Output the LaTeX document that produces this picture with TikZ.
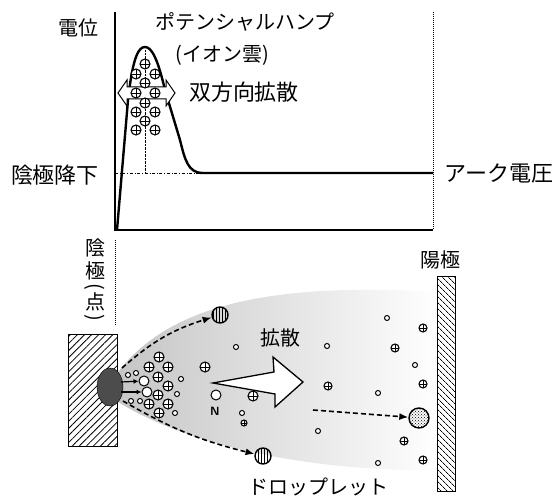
\documentclass[tikz,border=0pt]{standalone}
\usepackage{fontspec}
\newfontfamily\jp{Noto Sans CJK JP}
\usetikzlibrary{arrows.meta,patterns,patterns.meta}

\tikzset{
  lbl/.style={font=\jp\fontsize{20}{22}\selectfont,inner sep=0pt},
  ion/.style={circle,draw,fill=white,inner sep=0pt,minimum size=#1,line width=1.1pt,
    path picture={\draw[line width=0.9pt] (path picture bounding box.north)--(path picture bounding box.south)
      (path picture bounding box.west)--(path picture bounding box.east);}},
  ion/.default=10pt,
  atom/.style={circle,draw,fill=white,inner sep=0pt,minimum size=#1,line width=1pt},
  atom/.default=5pt,
  drop/.style={circle,draw,line width=1.4pt,inner sep=0pt,minimum size=16pt},
  flow/.style={dash pattern=on 5pt off 3pt,line width=1.6pt,-{Latex[length=9pt,width=7pt]}},
  jet/.style={line width=1.2pt,-{Latex[length=5pt,width=5pt]}}
}

\begin{document}
\begin{tikzpicture}[x=1pt,y=-1pt]
\useasboundingbox (0,0) rectangle (558,497);

% potential graph
\draw[line width=1.1pt] (115,12) -- (115,230) -- (433,230);
\draw[densely dotted,line width=1pt] (433,12) -- (433,230);
\draw[dash dot,line width=0.8pt] (115,173) -- (200,173);
\draw[densely dotted,thin] (145,50) -- (145,173);
\draw[line width=2.4pt,line join=round] (117,230) -- (128,100)
  .. controls (133,55) and (139,47) .. (145,47)
  .. controls (152,47) and (158,60) .. (165,90) -- (180,140)
  .. controls (185,160) and (188,173) .. (203,173) -- (433,173);
\draw[line width=1pt,fill=white] (118,93) -- (127,80) -- (127,87) -- (166,87) -- (166,80)
  -- (175,93) -- (166,106) -- (166,99) -- (127,99) -- (127,106) -- cycle;
\foreach \p [count=\i] in {(145,64),(136,74),(155,74),(145,83),(136,93),(155,93),
    (145,103),(136,112),(155,112),(145,121),(136,130),(155,130)}
  \node[ion] (hump\i) at \p {};

\node[lbl] (pot) at (78,28) {電位};
\node[lbl] (hump) at (245,22) {ポテンシャルハンプ};
\node[lbl] (cloud) at (222,55) {(イオン雲)};
\node[lbl,font=\jp\fontsize{22}{24}\selectfont] (bidir) at (244,92) {双方向拡散};
\node[lbl,font=\jp\fontsize{22}{24}\selectfont] (fall) at (55,175) {陰極降下};
\node[lbl,font=\jp\fontsize{22}{24}\selectfont] (arcv) at (499,173) {アーク電圧};

% cathode spot and plasma
\draw[densely dotted,line width=1pt] (115,240) -- (115,325);
\node[lbl] (cath1) at (95,248) {陰};
\node[lbl] (cath2) at (95,271) {極};
\node[lbl,rotate=-90] (cath3) at (95,287) {(};
\node[lbl] (cath4) at (95,302) {点};
\node[lbl,rotate=-90] (cath5) at (95,318) {)};

\shade[left color=gray!45,middle color=gray!30,right color=white]
  (118,372) .. controls (170,305) and (270,282) .. (440,292) -- (440,470)
  .. controls (330,472) and (200,452) .. (118,402) -- cycle;

\draw[line width=1pt,pattern={Lines[angle=45,distance=5pt,line width=0.8pt]}]
  (68,335) rectangle (117,447);
\draw[line width=1pt,pattern={Lines[angle=-45,distance=4pt,line width=0.8pt]}]
  (437,277) rectangle (455,492);
\draw[fill=gray!60!black] (110,387) ellipse [x radius=13,y radius=19];
\node[lbl] (anode) at (440,260) {陽極};

% particles
\foreach \p [count=\i] in {(159,357),(149,367),(168,367),(158,377),(168,386),(158,395),
    (149,404),(168,404),(159,413),(205,367),(253,396)}
  \node[ion] (ion\i) at \p {};
\foreach \p [count=\i] in {(423,328),(395,348),(423,384),(328,386),(404,441),(423,460)}
  \node[ion=8pt] (far\i) at \p {};
\foreach \p [count=\i] in {(144,381),(147,392)}
  \node[atom=10pt] (big\i) at \p {};
\node[atom=10pt] (nitro) at (216,395) {};
\node[font=\sffamily\bfseries\fontsize{12}{12}\selectfont,inner sep=0pt] (nlbl) at (215,411) {N};
\foreach \p [count=\i] in {(128,375),(136,373),(131,401),(140,401),(181,379),(177,394),
    (175,413),(236,347),(242,413),(387,318),(327,346),(415,365),(378,393),(318,431),(378,463)}
  \node[atom] (atom\i) at \p {};
\node[ion=6pt] (small) at (244,423) {};

% droplets
\node[drop,pattern=vertical lines] (dropA) at (220,315) {};
\node[drop,pattern=vertical lines] (dropB) at (263,456) {};
\node[drop,minimum size=20pt,pattern=crosshatch dots] (dropC) at (419,418) {};
\coordinate (srcA) at (122,368);
\coordinate (srcB) at (123,401);
\coordinate (srcC) at (313,410);
\draw[flow] (srcA) to[bend left=12] (dropA);
\draw[flow] (srcB) to[bend right=8] (dropB);
\draw[flow] (srcC) -- (dropC);
\coordinate (jet1) at (121,382);
\coordinate (jet2) at (121,392);
\draw[jet] (jet1) -- (big1);
\draw[jet] (jet2) -- (big2);

% diffusion arrow
\draw[line width=1.3pt,fill=white,line join=miter] (213,383) -- (274,372) -- (273,357) -- (303,382)
  -- (275,407) -- (275,394) -- cycle;
\node[lbl] (diff) at (280,338) {拡散};
\node[lbl] (droplet) at (318,487) {ドロップレット};
\end{tikzpicture}
\end{document}
